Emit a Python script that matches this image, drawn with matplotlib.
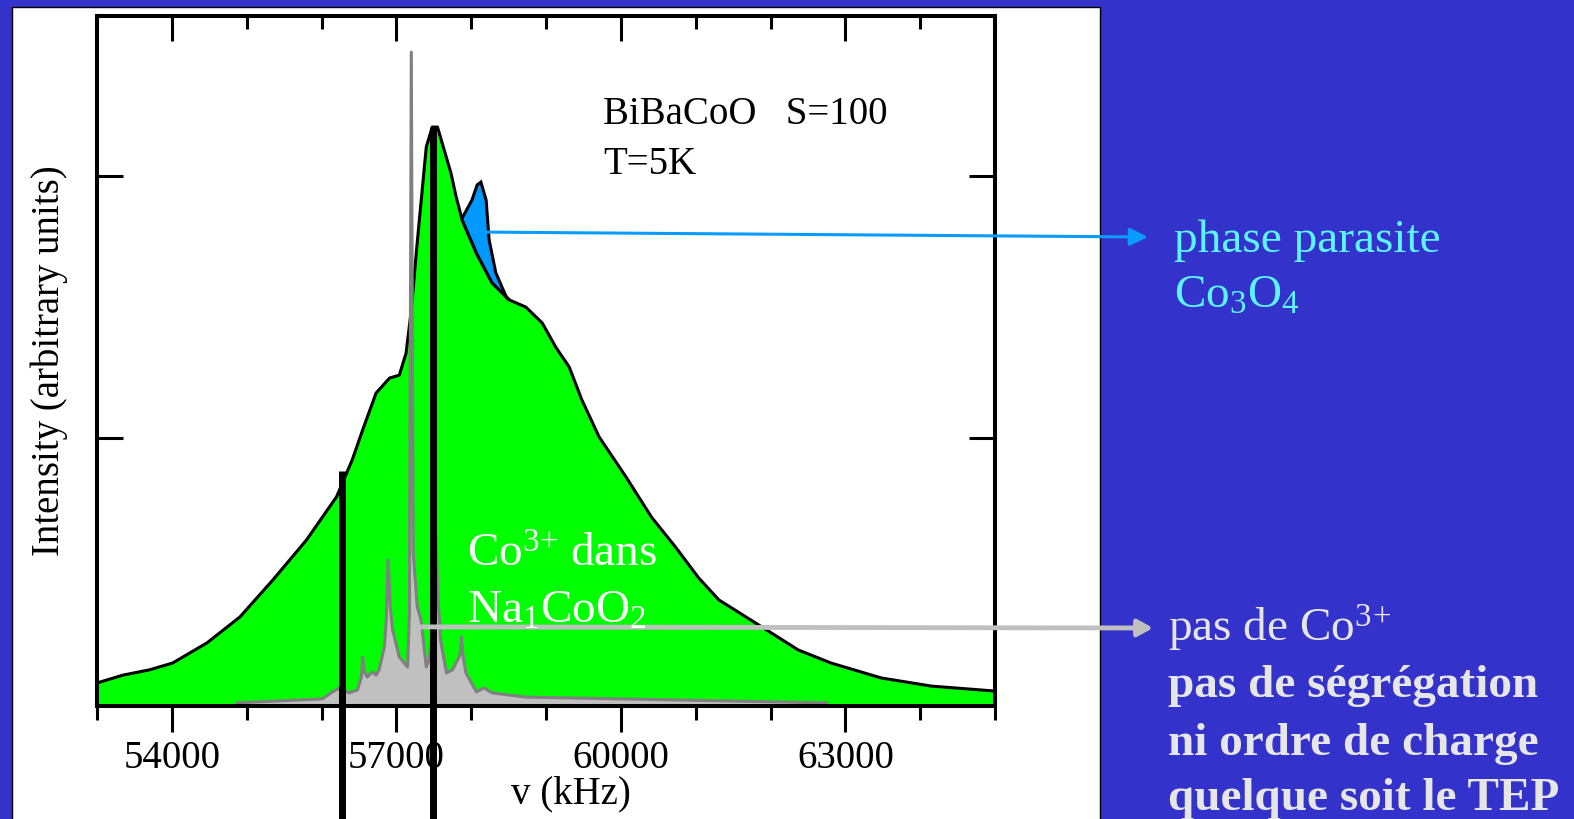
# NMR spectrum BiBaCoO vs Na1CoO2 reference, slide-style figure
import matplotlib
matplotlib.use("Agg")
import matplotlib.pyplot as plt
from matplotlib.patches import Rectangle
from matplotlib.ticker import MultipleLocator

plt.rcParams["font.family"] = "Liberation Serif"
plt.rcParams["mathtext.fontset"] = "custom"
plt.rcParams["mathtext.rm"] = "Liberation Serif"
plt.rcParams["mathtext.it"] = "Liberation Serif:italic"
plt.rcParams["mathtext.bf"] = "Liberation Serif:bold"

# BiBaCoO spectrum, S=100, T=5K
green_freq = [53000, 53350, 53700, 54010, 54470, 54910, 55350, 55800, 56200, 56410,
              56550, 56730, 56910, 57040, 57130, 57200, 57270, 57400, 57480, 57550,
              57640, 57730, 57800, 57880, 58070, 58280, 58510, 58730, 58950, 59130,
              59310, 59480, 59710, 60070, 60410, 60730, 61040, 61310, 61800, 62370,
              62810, 63480, 64150, 65000]
green_int = [0.065, 0.095, 0.115, 0.141, 0.218, 0.317, 0.458, 0.611, 0.775, 0.916,
             1.031, 1.172, 1.229, 1.240, 1.324, 1.489, 1.718, 2.111, 2.187, 2.187,
             2.099, 2.011, 1.920, 1.832, 1.706, 1.592, 1.527, 1.500, 1.439, 1.347,
             1.271, 1.145, 1.004, 0.851, 0.698, 0.584, 0.466, 0.382, 0.294, 0.191,
             0.141, 0.084, 0.053, 0.034]

# Co3O4 parasite phase bump (upper edge)
co3o4_freq = [57880, 58010, 58080, 58130, 58200, 58240, 58330, 58470, 58510]
co3o4_int = [1.840, 1.908, 1.966, 1.977, 1.908, 1.756, 1.630, 1.538, 1.527]

# Na1CoO2 reference spectrum (grey)
na_freq = [54870, 56010, 56150, 56240, 56370, 56480, 56535, 56550, 56570, 56610,
           56680, 56730, 56770, 56840, 56865, 56890, 56920, 56950, 57040, 57150,
           57175, 57200, 57225, 57280, 57330, 57400, 57440, 57510, 57530, 57555,
           57590, 57670, 57750, 57850, 57870, 57890, 57930, 58070, 58170, 58280,
           58730, 60770, 62750]
na_int = [-0.011, 0.004, 0.031, 0.046, 0.027, 0.038, 0.090, 0.164, 0.110, 0.088,
          0.107, 0.095, 0.115, 0.202, 0.300, 0.534, 0.350, 0.267, 0.164, 0.126,
          0.330, 2.473, 0.560, 0.355, 0.305, 0.126, 0.153, 0.380, 0.622, 0.400,
          0.229, 0.103, 0.115, 0.170, 0.240, 0.170, 0.103, 0.031, 0.046, 0.027,
          0.011, 0.000, -0.011]

# black marker lines
marker_freq = [56280, 57490]
marker_top = [0.874, 2.187]

xticks_major = [54000, 57000, 60000, 63000]
ymin, ymax = -0.023, 2.611

W, H = 1574, 819


def fx(px):
    return px / W


def fy(py):
    return 1 - py / H


fig = plt.figure(figsize=(W / 100, H / 100), dpi=100)
fig.patch.set_facecolor("#3333CC")
panel = Rectangle((fx(12), -0.05), fx(1100) - fx(12), fy(7) + 0.05,
                  transform=fig.transFigure, facecolor="white",
                  edgecolor="black", lw=1, zorder=-1)
fig.add_artist(panel)

ax = fig.add_axes([fx(97), fy(706), fx(995) - fx(97), fy(16) - fy(706)])
ax.set_zorder(2)
ax.set_facecolor("white")
ax.set_xlim(53000, 65000)
ax.set_ylim(ymin, ymax)

# main spectrum + parasite phase
ax.fill_between(green_freq, ymin - 0.05, green_int, color="#00FF00", lw=0, zorder=1)
ax.plot(green_freq, green_int, color="black", lw=2.2, zorder=1.2)
lo = [i for i, f in enumerate(green_freq) if co3o4_freq[0] <= f <= co3o4_freq[-1]]
poly_x = co3o4_freq + [green_freq[i] for i in reversed(lo)]
poly_y = co3o4_int + [green_int[i] for i in reversed(lo)]
ax.fill(poly_x, poly_y, facecolor="#0099FF", edgecolor="black", lw=2.2, zorder=1.3)

# Na1CoO2 grey spectrum
ax.fill_between(na_freq, ymin, na_int, color="#C0C0C0", lw=0, zorder=2)
ax.plot(na_freq, na_int, color="#808080", lw=2.2, zorder=2.1)

# vertical black lines running past the axis
for f, top in zip(marker_freq, marker_top):
    ax.plot([f, f], [-0.46, top], color="black", lw=5, solid_capstyle="butt",
            clip_on=False, zorder=5)

# axes styling
for sp in ax.spines.values():
    sp.set_linewidth(2.9)
ax.set_xticks(xticks_major)
ax.set_xticklabels([str(t) for t in xticks_major])
ax.xaxis.set_minor_locator(MultipleLocator(1000))
ax.tick_params(axis="x", which="major", direction="out", length=18.7, width=2.2,
               labelsize=28, pad=6)
ax.tick_params(axis="x", which="minor", direction="out", length=10, width=2.2)
ax.set_yticks([1, 2])
ax.tick_params(axis="y", which="major", direction="in", left=True, right=True,
               labelleft=False, length=18.7, width=2.2)

top = ax.secondary_xaxis("top")
top.set_xticks(xticks_major)
top.xaxis.set_minor_locator(MultipleLocator(1000))
top.tick_params(axis="x", which="major", direction="in", length=18, width=2.2,
                labeltop=False)
top.tick_params(axis="x", which="minor", direction="in", length=9.5, width=2.2)
top.spines["top"].set_linewidth(2.9)

ax.set_xlabel("v (kHz)", fontsize=28)
ax.xaxis.set_label_coords(0.528, -0.1)
ax.set_ylabel("Intensity (arbitrary units)", fontsize=28)
ax.yaxis.set_label_coords(-0.032, 0.5)

# annotations inside the plot
fig.text(fx(603), fy(124), "BiBaCoO   S=100", fontsize=28, va="baseline", zorder=8)
fig.text(fx(603), fy(174), "T=5K", fontsize=28, va="baseline", zorder=8)
fig.text(fx(467), fy(567), r"Co$^{3\!+}\,$dans", fontsize=34, color="white",
         va="baseline", zorder=8)
fig.text(fx(467), fy(623), r"Na$_1$CoO$_2$", fontsize=34, color="white",
         va="baseline", zorder=8)

# arrows out to the comments on the right
ax.annotate("", xy=(fx(1148), fy(237)), xycoords="figure fraction",
            xytext=(58210, 1.786), textcoords="data",
            arrowprops=dict(arrowstyle="-|>,head_length=0.55,head_width=0.27",
                            color="#0A9BFF", lw=2.2, shrinkA=0, shrinkB=0,
                            mutation_scale=20),
            annotation_clip=False, zorder=6)
ax.annotate("", xy=(fx(1153), fy(628)), xycoords="figure fraction",
            xytext=(57300, 0.279), textcoords="data",
            arrowprops=dict(arrowstyle="-|>,head_length=0.45,head_width=0.25",
                            color="#C0C0C0", lw=3.5, shrinkA=0, shrinkB=0,
                            mutation_scale=20),
            annotation_clip=False, zorder=6)

# right-hand comments
cyan = "#5CF5FF"
light = "#E6E6E6"
fig.text(fx(1174), fy(252), "phase parasite", fontsize=34, color=cyan, va="baseline")
fig.text(fx(1174), fy(308), r"Co$_3$O$_4$", fontsize=34, color=cyan, va="baseline")
fig.text(fx(1168), fy(642), r"pas de Co$^{3\!+}$", fontsize=34, color=light, va="baseline")
for line, base in [("pas de ségrégation", 697), ("ni ordre de charge", 755),
                   ("quelque soit le TEP", 810)]:
    fig.text(fx(1168), fy(base), line, fontsize=34, color=light,
             fontweight="bold", va="baseline")

fig.savefig("out.png", dpi=100, facecolor=fig.get_facecolor())
